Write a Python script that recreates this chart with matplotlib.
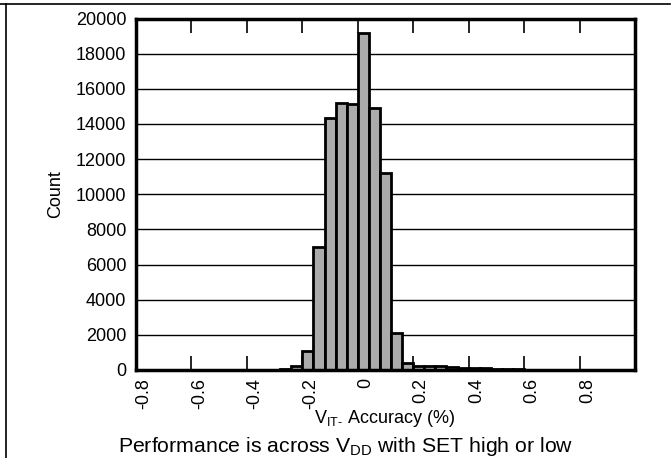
import matplotlib
matplotlib.use("Agg")
import matplotlib.pyplot as plt
import matplotlib.transforms as mtransforms
from matplotlib.lines import Line2D

plt.rcParams['font.family'] = ['Liberation Sans', 'DejaVu Sans']
plt.rcParams['mathtext.fontset'] = 'custom'
plt.rcParams['mathtext.rm'] = 'Liberation Sans'
plt.rcParams['mathtext.it'] = 'Liberation Sans:italic'

# histogram bins (left edges, width 0.04 %) and counts
bin_width = 0.04
bin_left = [-0.32, -0.28, -0.24, -0.20, -0.16, -0.12, -0.08, -0.04,
            0.00, 0.04, 0.08, 0.12, 0.16, 0.20, 0.24, 0.28, 0.32,
            0.36, 0.40, 0.44, 0.48, 0.52, 0.56, 0.60, 0.64, 0.68, 0.72, 0.76]
counts = [20, 60, 200, 1100, 7020, 14340, 15210, 15120,
          19160, 14890, 11230, 2120, 380, 250, 220, 200, 180,
          140, 120, 100, 80, 50, 30, 20, 15, 10, 10, 10]

x_ticks = [-0.8, -0.6, -0.4, -0.2, 0, 0.2, 0.4, 0.6, 0.8]
x_tick_labels = ['-0.8', '-0.6', '-0.4', '-0.2', '0', '0.2', '0.4', '0.6', '0.8']
y_ticks = list(range(0, 20001, 2000))

W, H = 671, 458
fig = plt.figure(figsize=(W / 100, H / 100), dpi=100)
ax = fig.add_axes([136 / W, 1 - 370 / H, (635 - 136) / W, (370 - 18.5) / H])

ax.bar(bin_left, counts, width=bin_width, align='edge',
       color='#ababab', edgecolor='black', linewidth=2.0, zorder=3)

ax.set_xlim(-0.8, 1.0)
ax.set_ylim(0, 20000)
ax.set_xticks(x_ticks)
ax.set_xticklabels(x_tick_labels, rotation=90)
ax.set_yticks(y_ticks)
ax.yaxis.grid(True, color='black', linewidth=1.0, zorder=0)
ax.set_axisbelow(True)

ax.tick_params(axis='x', direction='in', length=10, width=1.2, top=True,
               labelsize=13, pad=6)
ax.tick_params(axis='y', length=0, labelsize=13, pad=7)

# rotated labels sit a little to the right of their ticks in the original
shift = mtransforms.ScaledTranslation(8 / 100, 0, fig.dpi_scale_trans)
for lab in ax.get_xticklabels():
    lab.set_transform(lab.get_transform() + shift)

for spine in ax.spines.values():
    spine.set_linewidth(2.5)
    spine.set_zorder(5)

fig.text(385 / W, 1 - 423 / H, "V$_{\\mathrm{IT\u2010}}$ Accuracy (%)",
         ha='center', va='baseline', fontsize=13)
ax.set_ylabel("Count", fontsize=13, labelpad=8.5)

fig.text(346 / W, 1 - 452 / H, r"Performance is across V$_{\mathrm{DD}}$ with SET high or low",
         ha='center', va='baseline', fontsize=15.3)

# outer frame lines
fig.add_artist(Line2D([0, 670 / W], [1 - 4 / H, 1 - 4 / H], color='black', linewidth=1.2))
fig.add_artist(Line2D([6 / W, 6 / W], [0, 1 - 4 / H], color='black', linewidth=1.2))

fig.savefig("out.png", dpi=100)
